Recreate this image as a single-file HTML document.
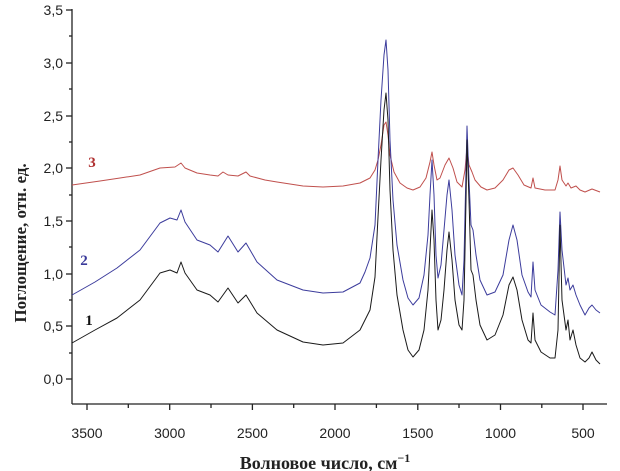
<!DOCTYPE html>
<html><head><meta charset="utf-8"><style>
body{margin:0;background:#fff;}
svg{display:block;}
.t{font-family:"Liberation Sans",sans-serif;font-size:14px;fill:#222;}
.s{font-family:"Liberation Serif",serif;font-weight:bold;}
</style></head><body>
<svg width="620" height="471" viewBox="0 0 620 471" xmlns="http://www.w3.org/2000/svg">
<g stroke="#222" stroke-width="1.3" fill="none">
<line x1="72" y1="9" x2="72" y2="404"/>
<line x1="72" y1="404" x2="607" y2="404"/>
<line x1="66" y1="10" x2="72" y2="10"/><line x1="69" y1="36" x2="72" y2="36"/>
<line x1="66" y1="63" x2="72" y2="63"/><line x1="69" y1="89" x2="72" y2="89"/>
<line x1="66" y1="116" x2="72" y2="116"/><line x1="69" y1="142" x2="72" y2="142"/>
<line x1="66" y1="168" x2="72" y2="168"/><line x1="69" y1="195" x2="72" y2="195"/>
<line x1="66" y1="221" x2="72" y2="221"/><line x1="69" y1="247" x2="72" y2="247"/>
<line x1="66" y1="274" x2="72" y2="274"/><line x1="69" y1="300" x2="72" y2="300"/>
<line x1="66" y1="326" x2="72" y2="326"/><line x1="69" y1="353" x2="72" y2="353"/>
<line x1="66" y1="379" x2="72" y2="379"/>
<line x1="87" y1="404" x2="87" y2="410"/><line x1="128.3" y1="404" x2="128.3" y2="408"/>
<line x1="169.7" y1="404" x2="169.7" y2="410"/><line x1="211" y1="404" x2="211" y2="408"/>
<line x1="252.4" y1="404" x2="252.4" y2="410"/><line x1="293.7" y1="404" x2="293.7" y2="408"/>
<line x1="335" y1="404" x2="335" y2="410"/><line x1="376.4" y1="404" x2="376.4" y2="408"/>
<line x1="417.8" y1="404" x2="417.8" y2="410"/><line x1="459" y1="404" x2="459" y2="408"/>
<line x1="500.5" y1="404" x2="500.5" y2="410"/><line x1="541.8" y1="404" x2="541.8" y2="408"/>
<line x1="583" y1="404" x2="583" y2="410"/>
</g>
<g class="t" text-anchor="end">
<text x="63" y="15">3,5</text><text x="63" y="68">3,0</text><text x="63" y="121">2,5</text>
<text x="63" y="173">2,0</text><text x="63" y="226">1,5</text><text x="63" y="279">1,0</text>
<text x="63" y="331">0,5</text><text x="63" y="384">0,0</text>
</g>
<g class="t" text-anchor="middle">
<text x="87" y="438">3500</text><text x="169.7" y="438">3000</text><text x="252.4" y="438">2500</text>
<text x="335" y="438">2000</text><text x="417.8" y="438">1500</text><text x="500.5" y="438">1000</text>
<text x="583" y="438">500</text>
</g>
<text class="s" x="325" y="469" font-size="18" text-anchor="middle" fill="#222">Волновое число, см<tspan font-size="12" dy="-7">−1</tspan></text>
<text class="s" font-size="17" text-anchor="middle" fill="#222" transform="translate(26,243) rotate(-90)">Поглощение, отн. ед.</text>
<text class="s" x="92" y="167" font-size="15" fill="#b03030" text-anchor="middle">3</text>
<text class="s" x="84" y="265" font-size="15" fill="#3a3a9a" text-anchor="middle">2</text>
<text class="s" x="89" y="325" font-size="15" fill="#111" text-anchor="middle">1</text>
<g fill="none" stroke-width="1" stroke-linejoin="round">
<polyline stroke="#c0504d" points="72,185 100,181 120,178 140,175 160,168 175,167 181,163 185,168 197,173 210,175 218,176 223,172 228,175 238,176 246,172 250,176 265,180 277,182 303,186 323,187 343,186 360,183 370,178 375,170 378,160 381,145 384,125 386,122 388,135 390,155 394,172 400,183 407,188 413,190 420,187 426,178 430,162 432,152 434,165 437,180 440,178 445,165 449,158 453,168 457,182 462,187 465,170 467,147 469,165 472,172 475,180 481,187 487,190 495,188 503,180 509,170 513,168 518,175 524,185 531,188 533,178 535,188 545,190 555,190 558,180 560,166 562,180 566,186 568,183 571,188 576,186 580,190 585,192 592,189 600,192"/>
<polyline stroke="#3c3c9c" points="72,295 95,282 117,268 140,250 160,223 170,218 177,220 181,210 185,222 197,240 210,245 218,252 228,236 238,252 246,243 257,262 277,280 303,290 323,293 343,292 360,283 365,272 370,258 375,225 378,160 381,100 384,55 386,40 388,70 390,140 393,200 397,245 403,280 408,298 413,305 419,298 424,275 428,235 430,195 432,160 434,195 436,255 438,278 441,265 444,230 447,195 449,180 452,210 455,255 459,285 462,295 464,260 466,170 467,126 469,180 471,225 473,230 476,255 480,280 487,295 495,292 503,275 509,240 513,225 517,240 522,275 528,292 531,297 533,262 535,290 541,305 550,312 555,315 558,270 560,212 562,250 566,285 568,278 570,290 573,285 576,295 580,305 585,315 589,308 592,305 596,310 600,313"/>
<polyline stroke="#1a1a1a" points="72,343 95,330 117,318 140,300 160,273 170,270 177,273 181,262 185,273 197,290 210,295 218,302 228,288 238,303 246,295 257,313 277,330 303,342 323,345 343,343 360,330 370,310 375,277 378,217 381,160 384,110 386,93 388,120 390,190 393,250 397,295 403,330 408,350 413,357 419,350 424,330 428,290 430,250 432,210 434,240 436,300 438,330 441,320 444,290 447,250 449,232 452,260 455,300 459,325 462,330 464,300 466,200 467,140 469,200 471,270 473,275 476,300 480,325 487,340 495,335 503,315 509,285 513,277 517,290 522,320 528,340 531,343 533,313 535,340 541,352 550,358 555,358 558,330 560,225 562,300 566,330 568,320 570,340 573,330 576,345 580,358 585,362 589,358 592,352 596,360 600,364"/>
</g>
</svg>
</body></html>
